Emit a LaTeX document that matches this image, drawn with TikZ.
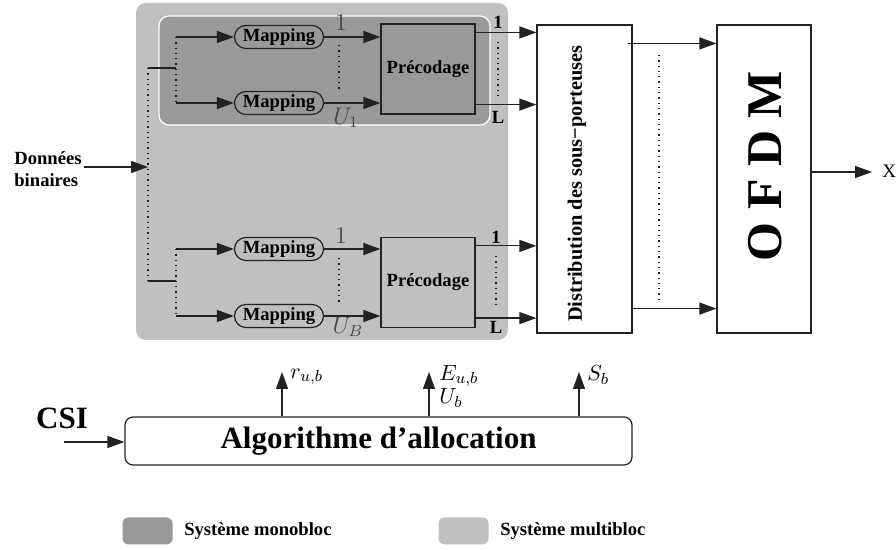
\documentclass[tikz,border=0pt]{standalone}
\usepackage{fontspec}
\setmainfont{Liberation Serif}
\usepackage{amsmath}
\usepackage{xcolor}
\usepackage{tikz}
\usetikzlibrary{arrows.meta, positioning, calc}

\definecolor{monogray}{HTML}{999999}
\definecolor{multigray}{HTML}{C0C0C0}
\definecolor{inkgray}{HTML}{222222}
\definecolor{labelgray}{HTML}{454545}

\newcommand{\boldsize}{\bfseries\fontsize{9.3}{11}\selectfont}

\begin{document}
\begin{tikzpicture}[x=0.5pt, y=-0.5pt,
    >={Triangle[length=8.5pt, width=6pt]},
    wire/.style={draw=inkgray, line width=0.6pt},
    dots/.style={draw=inkgray, dotted, line width=0.65pt},
    mapbox/.style={draw=inkgray, line width=0.6pt, rounded corners=5.75pt, minimum width=44.5pt, minimum height=11.5pt, inner sep=0pt, font=\boldsize},
    precbox/.style={draw=inkgray, line width=0.6pt, minimum width=47pt, minimum height=45pt, inner sep=0pt, font=\boldsize},
    tallbox/.style={draw=inkgray, line width=0.6pt, minimum height=154pt, inner sep=0pt},
    lbl/.style={font=\boldsize, inner sep=1pt},
    mathlbl/.style={font=\fontsize{12}{12}\selectfont, text=labelgray, inner sep=1pt},
    sidelbl/.style={font=\fontsize{11}{11}\selectfont, inner sep=1pt, anchor=west},
    swatch/.style={fill=#1, rounded corners=3pt, minimum width=25pt, minimum height=13.5pt, inner sep=0pt}
]
    \useasboundingbox (0,0) rectangle (896,550);

    % Multibloc and monobloc areas
    \fill[multigray, rounded corners=5pt] (136,3) rectangle (508,340);
    \draw[fill=monogray, draw=white, line width=0.6pt, rounded corners=5pt] (159,16) rectangle (490,125);

    % Blocks
    \node[mapbox] (m1a) at (279,37) {Mapping};
    \node[mapbox] (m1b) at (279,103) {Mapping};
    \node[precbox, fill=monogray] (p1) at (428,69) {Précodage};
    \node[mapbox] (m2a) at (279,249) {Mapping};
    \node[mapbox] (m2b) at (279,316) {Mapping};
    \node[precbox, fill=multigray] (p2) at (428,282.5) {Précodage};

    \node[tallbox, minimum width=47.5pt] (dist) at (584.5,179) {};
    \node[rotate=90, font=\bfseries\fontsize{10.2}{12}\selectfont] (disttxt) at (577,183.5) {Distribution des sous−porteuses};
    \node[tallbox, minimum width=47pt] (ofdm) at (764,179) {};
    \node[rotate=90, font=\bfseries\fontsize{25}{25}\selectfont] (ofdmtxt) at (765,166) {O F D M};

    \node[draw=inkgray, line width=0.6pt, rounded corners=4pt, minimum width=253.5pt, minimum height=24pt,
          font=\bfseries\fontsize{15.5}{16}\selectfont] (algo) at (378.5,441) {Algorithme d’allocation};
    \node[font=\bfseries\fontsize{15.5}{16}\selectfont] (csi) at (62,418) {CSI};

    % Binary data input and splitting
    \node[lbl, align=left, anchor=west] (data) at (12,169) {Données\\binaires};
    \coordinate (busin) at (148,167);
    \coordinate (j1) at (148,68);
    \coordinate (j2) at (148,281);
    \coordinate (k1) at (176,68);
    \coordinate (k2) at (176,281);
    \draw[wire,->] (data.east |- busin) -- (busin);
    \draw[dots] (j1) -- (j2);
    \draw[wire] (j1) -- (k1);
    \draw[wire] (j2) -- (k2);
    \draw[dots] (k1 |- m1a) -- (k1 |- m1b);
    \draw[dots] (k2 |- m2a) -- (k2 |- m2b);
    \foreach \m in {m1a, m1b}
        \draw[wire,->] (k1 |- \m) -- (\m.west);
    \foreach \m in {m2a, m2b}
        \draw[wire,->] (k2 |- \m) -- (\m.west);

    % Mapping to precoding
    \foreach \m/\p in {m1a/p1, m1b/p1, m2a/p2, m2b/p2}
        \draw[wire,->] (\m.east) -- (\m.east -| \p.west);
    \node[mathlbl] (n1) at (341,23) {$1$};
    \node[mathlbl] (u1) at (346,118) {$U_1$};
    \node[mathlbl] (n2) at (341,236) {$1$};
    \node[mathlbl] (u2) at (348,327) {$U_B$};
    \draw[dots] (339,45) -- (339,92);
    \draw[dots] (339,258) -- (339,305);

    % Precoding outputs
    \coordinate (o1) at ([yshift=-4.5pt]p1.north east);
    \coordinate (oL) at ([yshift=5pt]p1.south east);
    \coordinate (o2) at ([yshift=-4.5pt]p2.north east);
    \coordinate (oM) at ([yshift=5pt]p2.south east);
    \foreach \c in {o1, oL, o2, oM}
        \draw[wire,->] (\c) -- (\c -| dist.west);
    \node[lbl] (l1) at (498,22) {1};
    \node[lbl] (lL) at (498,117) {L};
    \node[lbl] (l2) at (496,237) {1};
    \node[lbl] (lM) at (496,327) {L};
    \draw[dots] (498,42) -- (498,100);
    \draw[dots] (496,256) -- (496,307);

    % Subcarriers to OFDM
    \coordinate (t1) at ([xshift=-2.5pt,yshift=-9.5pt]dist.north east);
    \coordinate (t2) at ([yshift=12.5pt]dist.south east);
    \draw[wire,->] (t1) -- (t1 -| ofdm.west);
    \draw[wire,->] (t2) -- (t2 -| ofdm.west);
    \draw[dots] (659,55) -- (659,303);

    % Output
    \coordinate (xout) at (872,172);
    \draw[wire,->] (xout -| ofdm.east) -- (xout);
    \node[anchor=west, font=\fontsize{9.5}{11}\selectfont, inner sep=1pt] (xlab) at (880,171) {X};

    % Allocation
    \coordinate (csiin) at (64,442);
    \draw[wire,->] (csiin) -- (csiin -| algo.west);
    \coordinate (rtop) at (282,372);
    \coordinate (etop) at (429,372);
    \coordinate (sbtop) at (579,372);
    \foreach \c in {rtop, etop, sbtop}
        \draw[wire,->] (\c |- algo.north) -- (\c);
    \node[sidelbl] (rlab) at (288,377) {$r_{u,b}$};
    \node[sidelbl] (elab) at (437,376) {$E_{u,b}$};
    \node[sidelbl] (ublab) at (437,398) {$U_b$};
    \node[sidelbl] (sblab) at (585,375) {$S_b$};

    % Legend
    \node[swatch=monogray] (legmono) at (147.5,531) {};
    \node[lbl, right=4.5pt of legmono] (legmonotxt) {Système monobloc};
    \node[swatch=multigray] (legmulti) at (463.5,531) {};
    \node[lbl, right=4.5pt of legmulti] (legmultitxt) {Système multibloc};
\end{tikzpicture}
\end{document}
